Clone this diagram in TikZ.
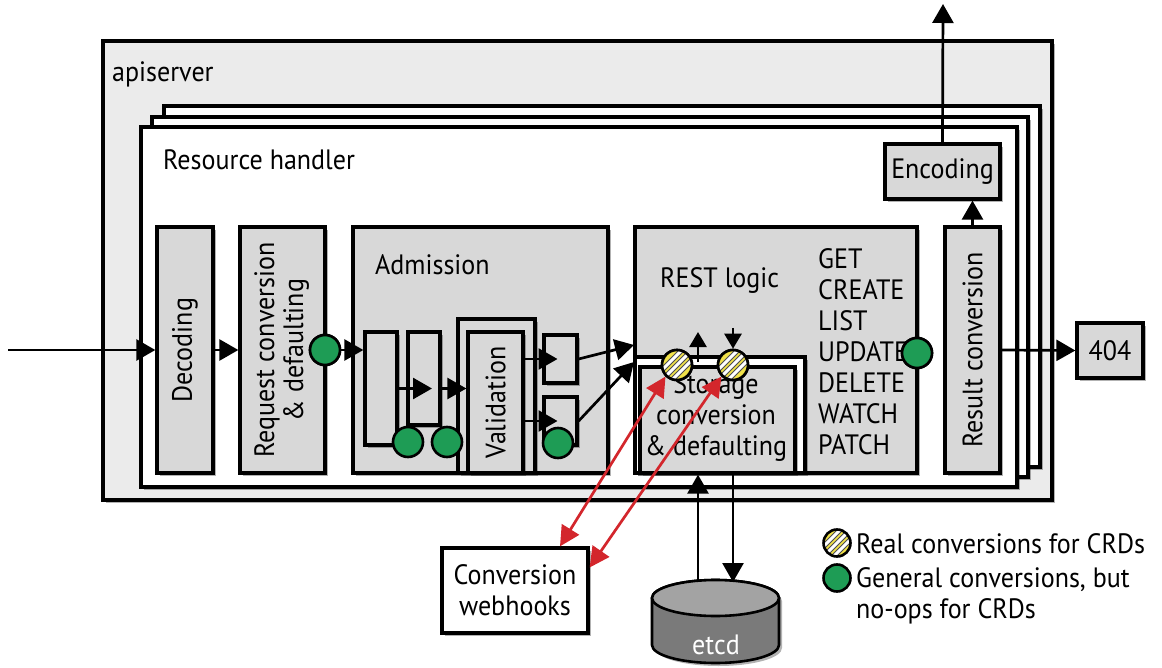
\documentclass[tikz,border=0pt]{standalone}
\usepackage{fontspec}
\usepackage{graphicx}
\setmainfont[FakeStretch=0.93]{PT Sans}
\usetikzlibrary{arrows.meta,shadows,calc}
\definecolor{apig}{HTML}{EBEBEB}
\definecolor{boxg}{HTML}{D8D8D8}
\definecolor{greenc}{HTML}{1E9C55}
\definecolor{yelc}{HTML}{F1E24A}
\definecolor{redc}{HTML}{D3262C}
\definecolor{etcdb}{HTML}{7A7A7A}
\definecolor{etcdt}{HTML}{A3A3A3}
\begin{document}
\begin{tikzpicture}[x=1pt,y=-1pt,
  font=\fontsize{28}{31}\selectfont,
  shd/.style={drop shadow={shadow xshift=3pt,shadow yshift=-3pt,opacity=0.3,fill=black}},
  box/.style={draw, line width=3.3pt, fill=boxg, inner sep=0pt, shd},
  wbox/.style={box, fill=white},
  frame/.style={draw, line width=3.3pt, fill=white, inner sep=0pt, shd},
  conn/.style={line width=2.7pt, -{Triangle[length=19pt,width=21pt]}},
  sconn/.style={line width=2.7pt, -{Triangle[length=15pt,width=17pt]}},
  redarr/.style={redc, line width=2.7pt, {Triangle[length=20pt,width=20pt]}-{Triangle[length=20pt,width=20pt]}},
  gdot/.style={circle, draw, line width=2.6pt, fill=greenc, minimum size=#1, inner sep=0pt},
  gdot/.default=30pt,
  ydot/.style={circle, draw, line width=2.6pt, fill=yelc, minimum size=#1, inner sep=0pt,
    path picture={
      \foreach \d [evaluate=\d as \xs using \d-20] in {-10,0,10}{
        \draw[black!70, line width=5pt] ([xshift=\xs pt,yshift=-20pt]path picture bounding box.center) -- ++(40pt,40pt);
        \draw[white, line width=3pt] ([xshift=\xs pt,yshift=-20pt]path picture bounding box.center) -- ++(40pt,40pt);}
    }},
  ydot/.default=30pt,
  lbl/.style={inner sep=0pt, anchor=base west}
]
\useasboundingbox (0,0) rectangle (1162,668);

% apiserver
\node[box, fill=apig, minimum width=949pt, minimum height=459pt] (api) at (577.5,270.5) {};
\node[lbl] (apilbl) at (112,82) {apiserver};

% resource handler stack
\node[frame, minimum width=876pt, minimum height=361pt] (rh3) at (602,286.5) {};
\node[frame, minimum width=876pt, minimum height=360pt] (rh2) at (590,297) {};
\node[frame, minimum width=876pt, minimum height=360pt] (rh1) at (579,307) {};
\node[lbl] (rhlbl) at (163,170) {Resource handler};

% pipeline boxes
\node[box, minimum width=56pt, minimum height=246pt] (dec) at (185,350) {\rotatebox{90}{Decoding}};
\node[box, minimum width=85pt, minimum height=246pt] (req) at (282.5,350)
  {\rotatebox{90}{\begin{tabular}{@{}c@{}}Request conversion\\[-2pt]\& defaulting\end{tabular}}};
\node[box, minimum width=255pt, minimum height=246pt] (adm) at (480.5,350) {};
\node[lbl] (admlbl) at (375,275) {Admission};
\node[box, minimum width=32pt, minimum height=113pt] (a1) at (381,388.5) {};
\node[box, minimum width=32pt, minimum height=93pt] (a2) at (424,378.5) {};
\node[box, minimum width=77pt, minimum height=154pt] (vfr) at (496.5,396) {};
\node[box, minimum width=55pt, minimum height=141pt] (val) at (495.5,402.5) {\rotatebox{90}{Validation}};
\node[box, minimum width=33pt, minimum height=48pt] (bA) at (560.5,359) {};
\node[box, minimum width=33pt, minimum height=48pt] (bB) at (560.5,421) {};

\node[box, minimum width=282pt, minimum height=246pt] (rest) at (776,350) {};
\node[lbl] (restlbl) at (660,288) {REST logic};
\node[inner sep=0pt, anchor=north west, align=left] (verbs) at (818,248)
  {GET\\CREATE\\LIST\\UPDATE\\DELETE\\WATCH\\PATCH};
\node[frame, minimum width=170pt, minimum height=116pt] (stfr) at (720,415) {};
\node[box, minimum width=155pt, minimum height=106pt] (stor) at (717.5,420) {};
\node[align=center, inner sep=0pt] (storlbl) at (716,417) {Storage\\conversion\\\& defaulting};

\node[box, minimum width=55pt, minimum height=246pt] (res) at (972.5,350) {\rotatebox{90}{Result conversion}};
\node[box, minimum width=115pt, minimum height=55pt] (enc) at (942.5,171.5) {Encoding};
\node[box, minimum width=66pt, minimum height=55pt] (e404) at (1110,350.5) {404};

\node[wbox, minimum width=146pt, minimum height=85pt, align=center] (hooks) at (515,590.5) {Conversion\\webhooks};

% etcd
\path[draw, line width=2.6pt, fill=etcdb, shd] (652,598) -- (652,645)
  arc[start angle=180, end angle=0, x radius=63.5, y radius=18] -- (779,598)
  arc[start angle=0, end angle=-180, x radius=63.5, y radius=18] -- cycle;
\path[draw, line width=2.6pt, fill=etcdt] (715.5,598) ellipse[x radius=63.5, y radius=18];
\node[text=white, inner sep=0pt] (etcdlbl) at (716,645) {etcd};
\coordinate (etU) at (698,582);
\coordinate (etD) at (733,582);

% dots
\node[gdot] (g1) at (325,350) {};
\node[gdot] (g2) at (408,442) {};
\node[gdot] (g3) at (447,442) {};
\node[gdot] (g4) at (558,443) {};
\node[gdot] (g5) at (917,353) {};
\node[ydot] (y1) at (677,365) {};
\node[ydot] (y2) at (733,365) {};

% coordinates
\coordinate (inS) at (8,350);
\coordinate (rA) at (634,345);
\coordinate (rB) at (634,362);
\coordinate (upS) at (698,362);
\coordinate (upE) at (698,332);
\coordinate (dnS) at (733,328);
\coordinate (outT) at (943,4);

% connectors
\draw[conn] (inS) -- (dec.west);
\draw[conn] (dec.east) -- (req.west);
\draw[conn] (g1.east) -- (g1.east -| a1.west);
\draw[conn] (a1.east) -- ([xshift=8pt]a2.center |- a1.east);
\draw[conn] (a2.east |- a1.east) -- (val.west |- a1.east);
\draw[conn] (val.east |- bA.center) -- ([xshift=-3pt]bA.center);
\draw[conn] (val.east |- bB.center) -- ([xshift=-3pt]bB.center);
\draw[conn] (bA.east) -- (rA);
\draw[conn] (bB.east) -- (rB);
\draw[sconn] (upS) -- (upE);
\draw[sconn] (dnS) -- (y2.north);
\draw[conn] (res.east) -- (e404.west);
\draw[conn] (res.north) -- (res.north |- enc.south);
\draw[conn] (enc.north) -- (outT);
\draw[conn] (etU) -- (etU |- stor.south);
\draw[conn] (dnS |- stor.south) -- (etD);
\draw[redarr] (y1.south west) -- ([xshift=45pt]hooks.north);
\draw[redarr] (y2.south west) -- ([yshift=23pt]hooks.east);

% redraw dots on top
\node[gdot] at (g1) {};
\node[gdot] at (g5) {};
\node[ydot] at (y1) {};
\node[ydot] at (y2) {};

% legend
\node[ydot=27pt] (ly) at (837,543) {};
\node[gdot=27pt] (lg) at (837,578) {};
\node[lbl] (lyt) at (856,553) {Real conversions for CRDs};
\node[inner sep=0pt, anchor=north west, align=left] (lgt) at (856,567) {General conversions, but\\no-ops for CRDs};
\end{tikzpicture}
\end{document}
